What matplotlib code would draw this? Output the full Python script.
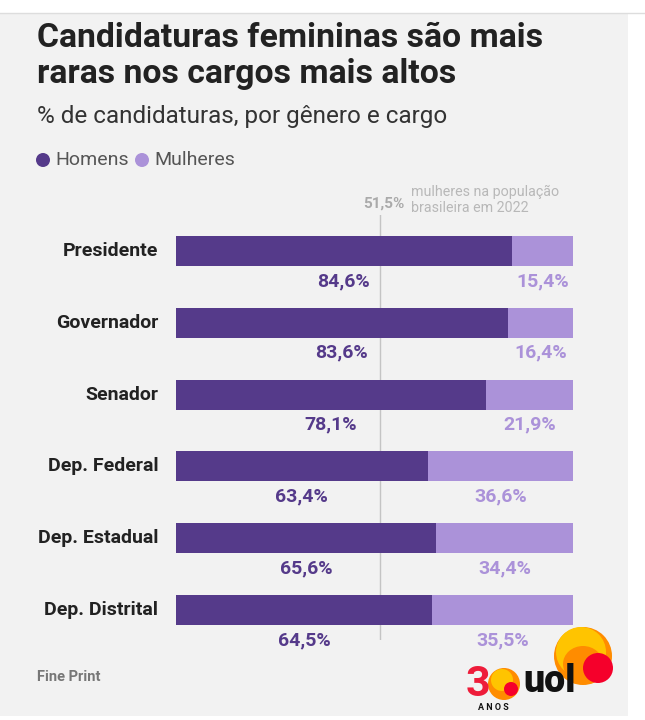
import matplotlib
matplotlib.use("Agg")
import matplotlib.pyplot as plt
from matplotlib.patches import Rectangle, Circle, Ellipse

cargos = ["Presidente", "Governador", "Senador", "Dep. Federal", "Dep. Estadual", "Dep. Distrital"]
homens = [84.6, 83.6, 78.1, 63.4, 65.6, 64.5]
mulheres = [15.4, 16.4, 21.9, 36.6, 34.4, 35.5]
pop_mulheres = 51.5

C_HOM = "#553a8a"
C_MUL = "#ab92d9"
BG = "#f2f2f2"
plt.rcParams['font.family'] = ['Roboto', 'DejaVu Sans']

W, H = 645, 720
fig = plt.figure(figsize=(W / 100, H / 100), dpi=100, facecolor="white")

# background / decoration axes in pixel coordinates
bg = fig.add_axes([0, 0, 1, 1])
bg.set_xlim(0, W)
bg.set_ylim(H, 0)
bg.axis("off")
bg.add_patch(Rectangle((0, 14), 628, 702, color=BG, lw=0))
bg.plot([0, W], [13, 13], color="#dddddd", lw=1)

bg.text(37, 38, "Candidaturas femininas são mais", fontsize=24.3, fontweight="bold",
        color="#222222", va="center", ha="left")
bg.text(37, 74, "raras nos cargos mais altos", fontsize=24.3, fontweight="bold",
        color="#222222", va="center", ha="left")
bg.text(37, 117, "% de candidaturas, por gênero e cargo", fontsize=17.5, color="#333333", va="center")

bg.add_patch(Circle((43, 160), 7, color=C_HOM, lw=0))
bg.text(55, 160, "Homens", fontsize=14, color="#555555", va="center")
bg.add_patch(Circle((142, 160), 7, color=C_MUL, lw=0))
bg.text(154, 160, "Mulheres", fontsize=14, color="#555555", va="center")

bg.text(37, 677, "Fine Print", fontsize=10.5, fontweight="bold", color="#777777", va="center")

# UOL logo (approximation)
bg.add_patch(Circle((583, 656), 29, color="#ff8c00", lw=0))
bg.add_patch(Circle((581, 652), 25, color="#ffc400", lw=0))
bg.add_patch(Ellipse((583, 664), 40, 36, color="#ff8c00", lw=0))
bg.add_patch(Circle((598, 668), 15, color="#f5002b", lw=0))
bg.text(466, 684, "3", fontsize=31, fontweight="bold", color="#ee1c3a", va="center")
bg.add_patch(Circle((504, 684), 16, color="#ff8c00", lw=0))
bg.add_patch(Circle((502, 680), 11, color="#ffc400", lw=0))
bg.add_patch(Circle((511, 689), 7, color="#f5002b", lw=0))
bg.text(550, 681, "uol", fontsize=27, fontweight="heavy", color="#111111", va="center", ha="center")
bg.text(493, 707, "A N O S", fontsize=6.5, fontweight="bold", color="#111111", va="center", ha="center")

# bar chart axes: x 0..100 -> 176..573 px, rows spaced ~71.8 px
ax_l, ax_r, ax_t, ax_b = 176, 573, 215, 640
ax = fig.add_axes([ax_l / W, 1 - ax_b / H, (ax_r - ax_l) / W, (ax_b - ax_t) / H])
ax.set_facecolor("none")
step = 71.8
ax.set_xlim(0, 100)
ax.set_ylim((ax_b - 251) / step, -(251 - ax_t) / step)
ax.axis("off")

ys = list(range(len(cargos)))
bh = 30 / step
ax.axvline(pop_mulheres, color="#c4c4c4", lw=1, zorder=0)
ax.barh(ys, homens, height=bh, color=C_HOM, zorder=2)
ax.barh(ys, mulheres, left=homens, height=bh, color=C_MUL, zorder=2)

for y, cargo, h, m in zip(ys, cargos, homens, mulheres):
    ly = y + bh / 2 + 15 / step
    ax.text(h / 2, ly, f"{h:.1f}%".replace(".", ","), ha="center", va="center",
            fontsize=14, fontweight="bold", color=C_HOM)
    ax.text(h + m / 2, ly, f"{m:.1f}%".replace(".", ","), ha="center", va="center",
            fontsize=14, fontweight="bold", color=C_MUL)
    ax.text(-4.5, y, cargo, ha="right", va="center", fontsize=14, fontweight="bold", color="#222222")

bg.text(404, 204, "51,5%", ha="right", va="center", fontsize=11, fontweight="bold", color="#aaaaaa")
bg.text(411, 200, "mulheres na população\nbrasileira em 2022", ha="left", va="center", fontsize=10.3,
        color="#b8b8b8", linespacing=1.15)

fig.savefig("out.png", dpi=100, facecolor="white")
